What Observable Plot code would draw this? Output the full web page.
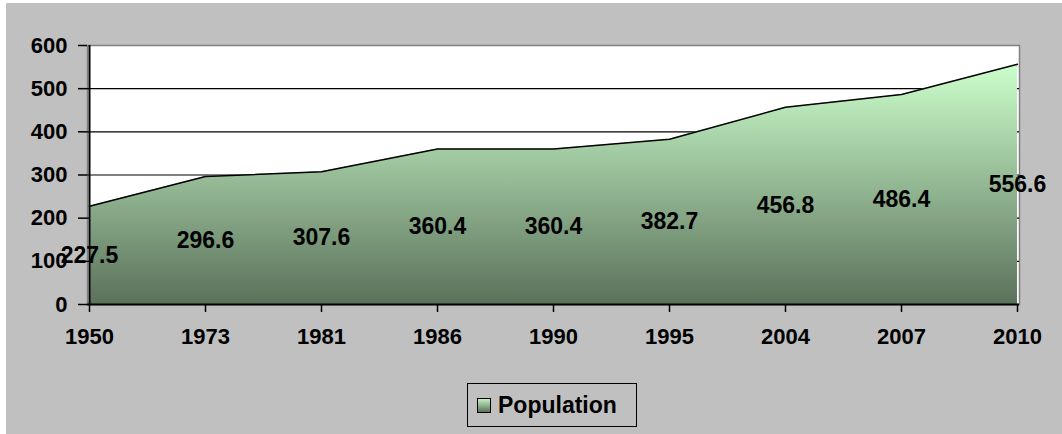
<!DOCTYPE html>
<html><head><meta charset="utf-8">
<script src="https://cdn.jsdelivr.net/npm/d3@7"></script>
<script src="https://cdn.jsdelivr.net/npm/@observablehq/plot@0.6"></script>
<style>
html,body{margin:0;padding:0;background:#fff;width:1062px;height:434px;overflow:hidden;}
#wrap{position:absolute;left:6px;top:3px;width:1056px;height:431px;background:#c0c0c0;font-family:"Liberation Sans",Arial,sans-serif;}
#chart{position:absolute;left:0;top:0;}
#legend{position:absolute;left:461px;top:380px;width:168px;height:42px;border:1.5px solid #000;box-sizing:content-box;display:flex;align-items:center;font-weight:bold;font-size:23px;color:#000;}
#sw{width:12px;height:13px;border:1.5px solid #000;margin-left:9px;margin-right:7px;background:linear-gradient(#c4f0c4,#5b715b);}
</style></head>
<body>
<div id="wrap"><div id="chart"></div><div id="legend"><div id="sw"></div><span>Population</span></div></div>
<script>
const years = ["1950","1973","1981","1986","1990","1995","2004","2007","2010"];
const population = [227.5,296.6,307.6,360.4,360.4,382.7,456.8,486.4,556.6];
const yTicks = [0,100,200,300,400,500,600];
const seriesName = "Population";

const data = years.map((y,i)=>({year:y, pop:population[i]}));

const chart = Plot.plot({
  width:1056, height:362,
  marginLeft:81, marginRight:43, marginTop:42, marginBottom:61,
  style:{fontFamily:"'Liberation Sans', Arial, sans-serif", background:"transparent", color:"#000"},
  x:{type:"point", domain:years, padding:0},
  y:{domain:[0,600]},
  marks:[
    Plot.frame({fill:"white", stroke:"#808080", strokeWidth:1.5}),
    Plot.ruleY(yTicks.filter(t=>t>0 && t<600), {stroke:"#000", strokeWidth:1.2}),
    Plot.areaY(data, {x:"year", y:"pop", fill:"url(#popGrad)", curve:"linear"}),
    Plot.lineY(data, {x:"year", y:"pop", stroke:"#000", strokeWidth:1.5}),
    Plot.ruleY([0], {stroke:"#000", strokeWidth:2}),
    Plot.ruleX([years[0]], {stroke:"#000", strokeWidth:2}),
    Plot.axisY({ticks:yTicks, tickSize:9, tickPadding:11, fontSize:22, fontWeight:"bold", tickFormat:d=>String(d), label:null, stroke:"#000", strokeWidth:1.5}),
    Plot.axisX({tickSize:8, tickPadding:16, fontSize:22, fontWeight:"bold", label:null, stroke:"#000", strokeWidth:1.5}),
    Plot.text(data, {x:"year", y:d=>d.pop/2, text:d=>d.pop.toFixed(1), fontSize:23, fontWeight:"bold", fill:"#000"})
  ]
});

const svg = d3.select(chart);
const defs = svg.insert("defs", ":first-child");
const g = defs.append("linearGradient").attr("id","popGrad").attr("x1",0).attr("y1",0).attr("x2",0).attr("y2",1);
g.append("stop").attr("offset","0%").attr("stop-color","#ccffcc");
g.append("stop").attr("offset","100%").attr("stop-color","#5b715b");
document.getElementById("chart").appendChild(chart);
</script>
</body></html>
